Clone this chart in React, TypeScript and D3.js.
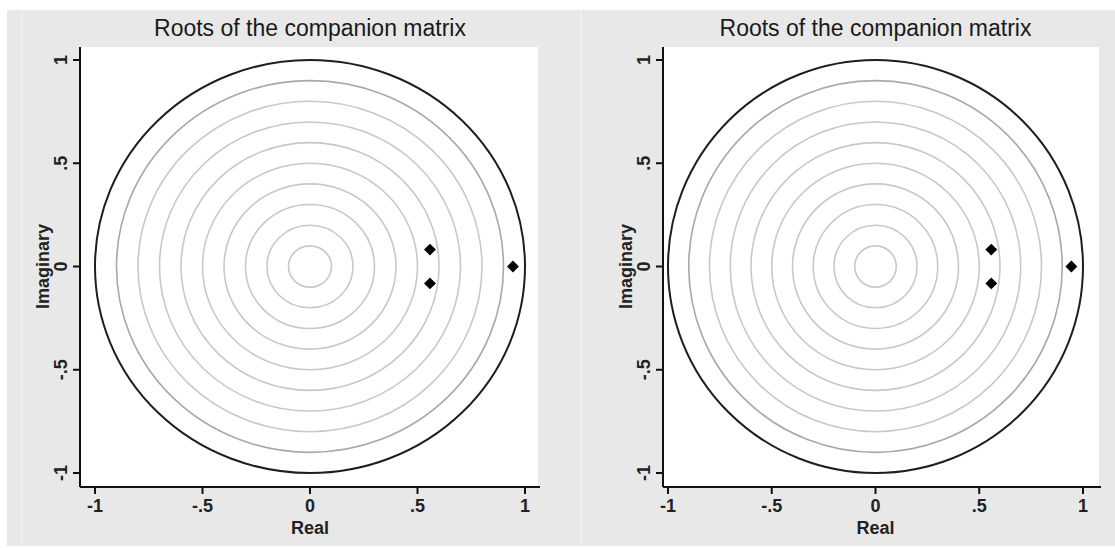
import React from "react";
import * as d3 from "d3";

const panelTitles = ["Roots of the companion matrix", "Roots of the companion matrix"];
const rootReal = [0.944, 0.558, 0.558];
const rootImag = [0, 0.082, -0.082];
const tickValues = [-1, -0.5, 0, 0.5, 1];
const tickLabels = ["-1", "-.5", "0", ".5", "1"];
const gridRadii = [0.1, 0.2, 0.3, 0.4, 0.5, 0.6, 0.7, 0.8, 0.9];
const unitRadius = [1];

type Layout = {
  plotL: number; plotR: number; plotT: number; plotB: number;
  xr: [number, number]; yr: [number, number];
};

const layouts: Layout[] = [
  { plotL: 80, plotR: 538, plotT: 47, plotB: 487, xr: [95, 525], yr: [473, 60] },
  { plotL: 663, plotR: 1099, plotT: 47, plotB: 487, xr: [668, 1083], yr: [473, 60] },
];

const FONT = "'Liberation Sans', Arial, sans-serif";

function Panel({ title, L }: { title: string; L: Layout }) {
  const x = d3.scaleLinear().domain([-1, 1]).range(L.xr);
  const y = d3.scaleLinear().domain([-1, 1]).range(L.yr);
  const cx = x(0), cy = y(0);
  const diamond = d3.symbol().type(d3.symbolDiamond2).size(90)();
  return (
    <g>
      <rect x={L.plotL} y={L.plotT} width={L.plotR - L.plotL} height={L.plotB - L.plotT} fill="#ffffff" />
      {gridRadii.map((r, i) => (
        <ellipse key={"g" + i} cx={cx} cy={cy} rx={x(r) - x(0)} ry={y(0) - y(r)}
          fill="none" stroke={r === 0.9 ? "#a8a8a8" : "#c8c8c8"} strokeWidth={1.6} />
      ))}
      {unitRadius.map((r, i) => (
        <ellipse key={"u" + i} cx={cx} cy={cy} rx={x(r) - x(0)} ry={y(0) - y(r)}
          fill="none" stroke="#1e1e1e" strokeWidth={2} />
      ))}
      {rootReal.map((re, i) => (
        <path key={"p" + i} d={diamond || ""} transform={`translate(${x(re)},${y(rootImag[i])})`} fill="#000" />
      ))}
      <line x1={L.plotL} x2={L.plotL} y1={L.plotT} y2={L.plotB} stroke="#111" strokeWidth={2} />
      <line x1={L.plotL} x2={L.plotR + 2} y1={L.plotB} y2={L.plotB} stroke="#111" strokeWidth={2} />
      {tickValues.map((v, i) => (
        <g key={"xt" + i}>
          <line x1={x(v)} x2={x(v)} y1={L.plotB} y2={L.plotB + 7} stroke="#111" strokeWidth={2} />
          <text x={x(v)} y={L.plotB + 25} textAnchor="middle" fontSize={18} fontWeight="bold" fill="#222" fontFamily={FONT}>{tickLabels[i]}</text>
        </g>
      ))}
      {tickValues.map((v, i) => (
        <g key={"yt" + i}>
          <line x1={L.plotL - 7} x2={L.plotL} y1={y(v)} y2={y(v)} stroke="#111" strokeWidth={2} />
          <text transform={`translate(${L.plotL - 13},${y(v)}) rotate(-90)`} textAnchor="middle" fontSize={18} fontWeight="bold" fill="#222" fontFamily={FONT}>{tickLabels[i]}</text>
        </g>
      ))}
      <text x={x(0)} y={L.plotB + 47} textAnchor="middle" fontSize={18} fontWeight="bold" fill="#222" fontFamily={FONT}>Real</text>
      <text transform={`translate(${L.plotL - 31},${y(0)}) rotate(-90)`} textAnchor="middle" fontSize={18} fontWeight="bold" fill="#222" fontFamily={FONT}>Imaginary</text>
      <text x={x(0)} y={36} textAnchor="middle" fontSize={23} fill="#1a1a1a" fontFamily={FONT}>{title}</text>
    </g>
  );
}

export default function App() {
  return (
    <svg width={1115} height={548} style={{ position: "absolute", left: 0, top: 0, display: "block" }}>
      <rect x={0} y={0} width={1115} height={548} fill="#ffffff" />
      <rect x={7} y={10} width={1108} height={536} fill="#e8e8e8" />
      <line x1={22} x2={22} y1={10} y2={546} stroke="#f0f0f0" strokeWidth={1.5} />
      <line x1={581} x2={581} y1={10} y2={546} stroke="#f0f0f0" strokeWidth={1.5} />
      {panelTitles.map((t, i) => (
        <Panel key={i} title={t} L={layouts[i]} />
      ))}
    </svg>
  );
}
